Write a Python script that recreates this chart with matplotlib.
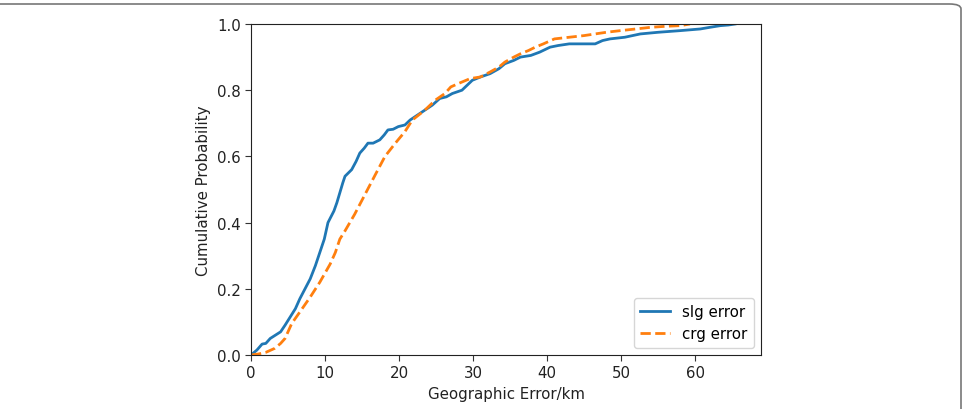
import matplotlib
matplotlib.use("Agg")
import matplotlib.pyplot as plt
from matplotlib.patches import FancyBboxPatch

# Cumulative probability curves
slg_x = [0, 0.8, 1.5, 2.0, 2.6, 3.3, 4.0, 4.6, 5.3, 6.0, 6.6, 7.3, 8.0, 8.7, 9.3, 9.9, 10.4, 11.2, 11.6,
         12.0, 12.4, 12.7, 13.6, 14.2, 14.7, 15.3, 15.8, 16.5, 17.4, 18.0, 18.5, 19.2, 19.9, 20.8, 21.5,
         22.5, 23.5, 24.5, 25.5, 26.4, 27.2, 28.5, 29.2, 29.9, 31.0, 32.3, 33.5, 34.3, 35.5, 36.4, 37.8,
         39.0, 40.4, 41.5, 43.0, 45.0, 46.5, 47.5, 48.5, 50.5, 52.6, 55.0, 58.0, 60.7, 62.0, 63.4, 64.5, 65.4]
slg_p = [0, 0.015, 0.033, 0.035, 0.05, 0.06, 0.07, 0.09, 0.115, 0.14, 0.17, 0.20, 0.23, 0.27, 0.31, 0.35,
         0.40, 0.435, 0.46, 0.49, 0.52, 0.54, 0.56, 0.585, 0.61, 0.625, 0.64, 0.64, 0.65, 0.665, 0.68, 0.682,
         0.69, 0.695, 0.71, 0.725, 0.74, 0.755, 0.775, 0.78, 0.79, 0.80, 0.815, 0.83, 0.84, 0.85, 0.865,
         0.88, 0.89, 0.90, 0.905, 0.915, 0.93, 0.935, 0.94, 0.94, 0.94, 0.95, 0.955, 0.96, 0.97, 0.975,
         0.98, 0.985, 0.99, 0.995, 0.997, 1.0]

crg_x = [0, 1.0, 2.0, 3.2, 4.0, 4.6, 5.5, 6.6, 8.0, 9.3, 10.7, 11.4, 12.0, 12.7, 14.0, 15.4, 16.8, 18.1,
         19.5, 20.8, 21.8, 23.5, 24.9, 26.2, 27.0, 28.0, 29.6, 31.0, 32.3, 33.5, 34.3, 35.5, 36.4, 37.5,
         38.4, 39.5, 41.0, 43.0, 45.0, 46.5, 48.0, 49.9, 52.0, 54.0, 56.0, 58.0, 59.3]
crg_p = [0, 0.003, 0.008, 0.02, 0.035, 0.05, 0.095, 0.13, 0.175, 0.22, 0.275, 0.31, 0.35, 0.375, 0.425,
         0.485, 0.545, 0.60, 0.64, 0.675, 0.71, 0.74, 0.77, 0.79, 0.81, 0.82, 0.835, 0.84, 0.855, 0.87,
         0.885, 0.90, 0.91, 0.92, 0.93, 0.94, 0.955, 0.96, 0.965, 0.97, 0.975, 0.98, 0.985, 0.99, 0.993,
         0.995, 1.0]

x_ticks = [0, 10, 20, 30, 40, 50, 60]
y_ticks = [0.0, 0.2, 0.4, 0.6, 0.8, 1.0]

plt.rcParams['font.family'] = ['DejaVu Sans']
fig = plt.figure(figsize=(9.64, 4.10), dpi=100)
ax = fig.add_axes([251 / 964, 1 - 356 / 410, 510 / 964, 331 / 410])

ax.plot(slg_x, slg_p, color='#1f77b4', lw=2.0, label='slg error')
ax.plot(crg_x, crg_p, color='#ff7f0e', lw=2.0, ls='--', label='crg error')

ax.set_xlim(0, 68.9)
ax.set_ylim(0, 1.0)
ax.set_xticks(x_ticks)
ax.set_yticks(y_ticks)
ax.set_xticklabels([str(v) for v in x_ticks])
ax.set_yticklabels([f"{v:.1f}" for v in y_ticks])
ax.tick_params(labelsize=10.8, length=4, color='#333333', labelcolor='#222222')
for s in ax.spines.values():
    s.set_color('#222222')
ax.set_xlabel('Geographic Error/km', fontsize=10.8, color='#222222', labelpad=4)
ax.set_ylabel('Cumulative Probability', fontsize=10.8, color='#222222', labelpad=4)
ax.legend(loc='lower right', fontsize=10.8, handlelength=2.0)

# rounded frame around the figure (open at the bottom)
frame = FancyBboxPatch((-20 / 964, -0.2), (961 + 20) / 964 + 0.0, (1 - 5 / 410) + 0.2,
                       boxstyle="round,pad=0,rounding_size=0.012",
                       transform=fig.transFigure, fill=False, edgecolor='#777777', lw=1.2,
                       clip_on=False)
fig.patches.append(frame)

fig.savefig('out.png', dpi=100)
